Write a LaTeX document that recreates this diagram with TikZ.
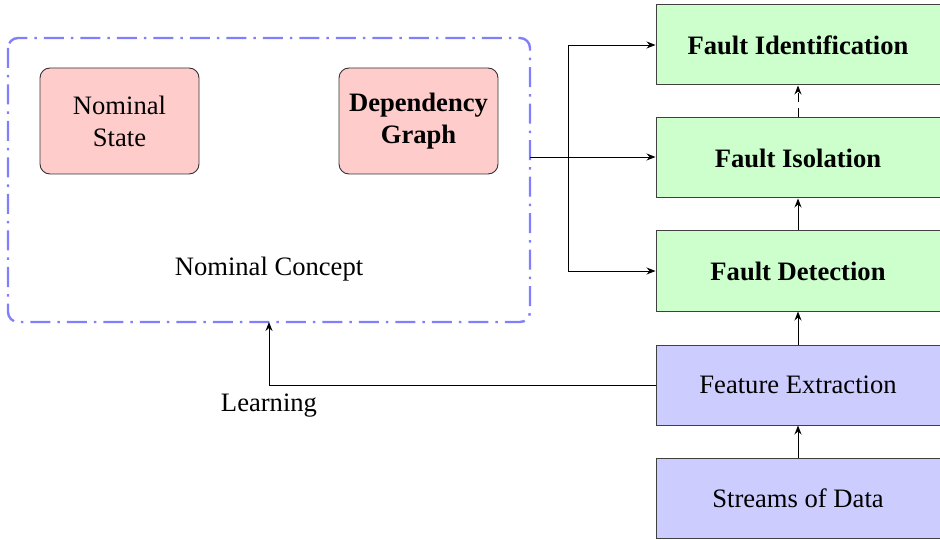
\documentclass[tikz,border=0pt]{standalone}
\usepackage{fontspec}
\setmainfont{Liberation Serif}
\newfontfamily\timesfam{Liberation Serif}
\usetikzlibrary{arrows.meta,positioning}
\begin{document}
\begin{tikzpicture}[x=1pt,y=-1pt,
  font=\timesfam\fontsize{26.6}{32}\selectfont,
  arr/.style={-{Stealth[length=9pt,width=7pt,inset=3pt]},line width=0.9pt},
  concept/.style={draw=black!80,line width=0.9pt,rounded corners=10pt,fill=red!20,
    minimum width=159pt,minimum height=106pt,align=center,inner sep=0pt},
  stage/.style={draw=black!75,line width=1pt,fill=green!20,
    minimum width=284pt,minimum height=80pt,inner sep=0pt,font=\timesfam\fontsize{26.6}{32}\selectfont\bfseries},
  source/.style={draw=black!75,line width=1pt,fill=blue!20,
    minimum width=284pt,minimum height=80pt,inner sep=0pt},
  region/.style={draw=blue!50,line width=2.4pt,rounded corners=10pt,
    dash pattern=on 20pt off 7pt on 2.5pt off 7pt}]
\useasboundingbox (0,0) rectangle (940,540);

% pipeline on the right
\node[source] (streams) at (798,498) {Streams of Data};
\node[source] (feat) at (798,385) {Feature Extraction};
\node[stage] (detect) at (798,271) {Fault Detection};
\node[stage] (isol) at (798,158) {Fault Isolation};
\node[stage] (ident) at (798,45) {Fault Identification};

% nominal concept region
\draw[region] (8,38) rectangle (530,322);
\coordinate (regE) at (530,157);
\coordinate (regS) at (269,322);
\node[concept] (state) at (119.5,121) {Nominal\\State};
\node[concept,font=\timesfam\fontsize{26.6}{32}\selectfont\bfseries] (graph) at (418.5,121) {Dependency\\Graph};
\node (nomlabel) at (269,269) {Nominal Concept};

% vertical flow
\draw[arr] (streams) -- (feat);
\draw[arr] (feat) -- (detect);
\draw[arr] (detect) -- (isol);
\draw[arr,dash pattern=on 9pt off 6pt] (isol) -- (ident);

% fan-out from the concept region
\coordinate (split) at (568,157);
\draw[line width=0.9pt] (regE) -- (split);
\draw[arr] (split) |- (ident.west);
\draw[arr] (split) -- (split -| isol.west);
\draw[arr] (split) |- (detect.west);

% learning feedback
\draw[arr] (feat.west) -| (regS);
\node (learn) at (269,406) {Learning};
\end{tikzpicture}
\end{document}
